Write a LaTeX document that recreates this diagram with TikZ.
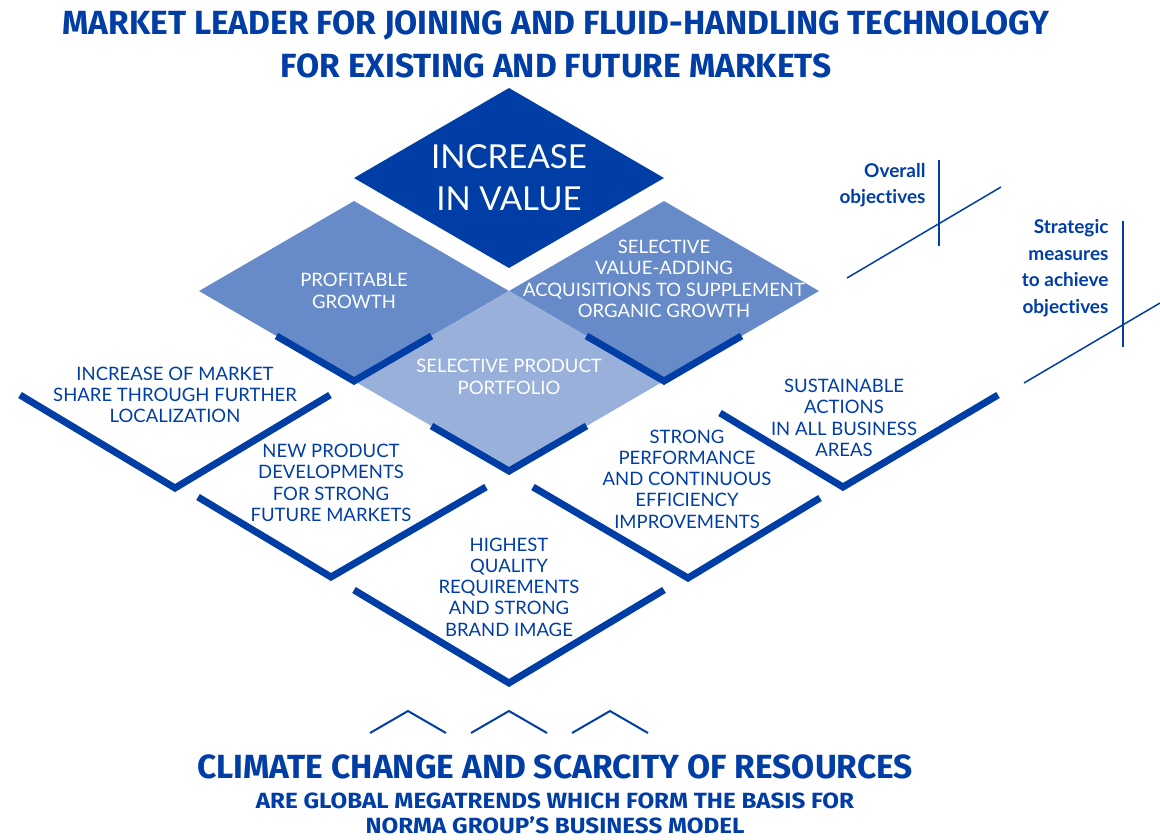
\documentclass[tikz,border=0pt]{standalone}
\usepackage{fontspec}
\setmainfont[Ligatures=NoCommon]{Lato}
\newfontfamily\headfont{Fira Sans}
\newfontfamily\subheadfont[FakeStretch=1.1]{Fira Sans}
\usetikzlibrary{calc,shapes.geometric}

\definecolor{normablue}{RGB}{0,61,165}
\definecolor{midblue}{RGB}{103,139,200}
\definecolor{paleblue}{RGB}{153,176,219}

\begin{document}
\begin{tikzpicture}[
    x=1pt, y=-1pt,
    tile/.style={diamond, minimum width=310pt, minimum height=180pt, inner sep=0pt, outer sep=0pt},
    chev/.style={draw=normablue, line width=7pt},
    bodytext/.style={text=normablue, align=center, font=\fontsize{18.5}{21.3}\selectfont},
    tiletext/.style={bodytext, text=white},
    headline/.style={text=normablue, align=center, font=\headfont\bfseries\fontsize{33.5}{43}\selectfont},
    subline/.style={text=normablue, align=center, font=\subheadfont\bfseries\fontsize{22}{25}\selectfont},
    note/.style={text=normablue, align=right, font=\bfseries\fontsize{19}{26.5}\selectfont},
    guide/.style={draw=normablue, line width=1.5pt},
    caret/.style={draw=normablue, line width=2pt}
]
\useasboundingbox (0,0) rectangle (1160,839);

% headline
\node[headline] (title) at (556,44) {MARKET LEADER FOR JOINING AND FLUID-HANDLING TECHNOLOGY\\FOR EXISTING AND FUTURE MARKETS};

% diamonds
\node[tile, fill=normablue] (value) at (509,178) {};
\node[tile, fill=midblue] (growth) at (354,291) {};
\node[tile, fill=midblue] (acq) at (664,291) {};
\node[tile, fill=paleblue] (portfolio) at (509,381) {};

\node[tiletext, font=\fontsize{33}{42}\selectfont] at (value.center) {INCREASE\\IN VALUE};
\node[tiletext] at (growth.center) {PROFITABLE\\GROWTH};
\node[tiletext] at ([yshift=12pt]acq.center) {SELECTIVE\\VALUE-ADDING\\ACQUISITIONS TO SUPPLEMENT\\ORGANIC GROWTH};
\node[tiletext] at ([yshift=4pt]portfolio.center) {SELECTIVE PRODUCT\\PORTFOLIO};

\draw[chev] ($(growth.west)!0.5!(growth.south)$) -- (growth.south) -- ($(growth.south)!0.5!(growth.east)$);
\draw[chev] ($(acq.west)!0.5!(acq.south)$) -- (acq.south) -- ($(acq.south)!0.5!(acq.east)$);
\draw[chev] ($(portfolio.west)!0.5!(portfolio.south)$) -- (portfolio.south) -- ($(portfolio.south)!0.5!(portfolio.east)$);

% strategic measures
\coordinate (share) at (175,488);
\coordinate (newprod) at (331,577);
\coordinate (quality) at (509,683);
\coordinate (perf) at (688,578);
\coordinate (sust) at (843,487);

\draw[chev] (share) ++(-155,-93) -- (share) -- ++(155,-93);
\draw[chev] (newprod) ++(-133,-80) -- (newprod) -- ++(155,-90);
\draw[chev] (quality) ++(-155,-93) -- (quality) -- ++(155,-93);
\draw[chev] (perf) ++(-155,-91) -- (perf) -- ++(132,-80);
\draw[chev] (sust) ++(-123,-74) -- (sust) -- ++(155,-92);

\node[bodytext] (sharetxt) at (175,395) {INCREASE OF MARKET\\SHARE THROUGH FURTHER\\LOCALIZATION};
\node[bodytext] (newprodtxt) at (331,483) {NEW PRODUCT\\DEVELOPMENTS\\FOR STRONG\\FUTURE MARKETS};
\node[bodytext] (qualitytxt) at (509,587) {HIGHEST\\QUALITY\\REQUIREMENTS\\AND STRONG\\BRAND IMAGE};
\node[bodytext] (perftxt) at (687,479) {STRONG\\PERFORMANCE\\AND CONTINUOUS\\EFFICIENCY\\IMPROVEMENTS};
\node[bodytext] (susttxt) at (844,418) {SUSTAINABLE\\ACTIONS\\IN ALL BUSINESS\\AREAS};

% side notes
\node[note, anchor=east] (overall) at (929,185) {Overall\\objectives};
\draw[guide] (939,160) -- (939,246);
\draw[guide] (847,278) -- (1001,187);

\node[note, anchor=east] (strategic) at (1112,268) {Strategic\\measures\\to achieve\\objectives};
\draw[guide] (1123,221) -- (1123,347);
\draw[guide] (1024,383) -- (1160,303);

% megatrends
\foreach \cx in {408,509,610}
  \draw[caret] (\cx-38,733) -- (\cx,711) -- (\cx+38,733);

\node[headline] (trend) at (555,767) {CLIMATE CHANGE AND SCARCITY OF RESOURCES};
\node[subline] (basis) at (555,813) {ARE GLOBAL MEGATRENDS WHICH FORM THE BASIS FOR\\NORMA GROUP’S BUSINESS MODEL};
\end{tikzpicture}
\end{document}
